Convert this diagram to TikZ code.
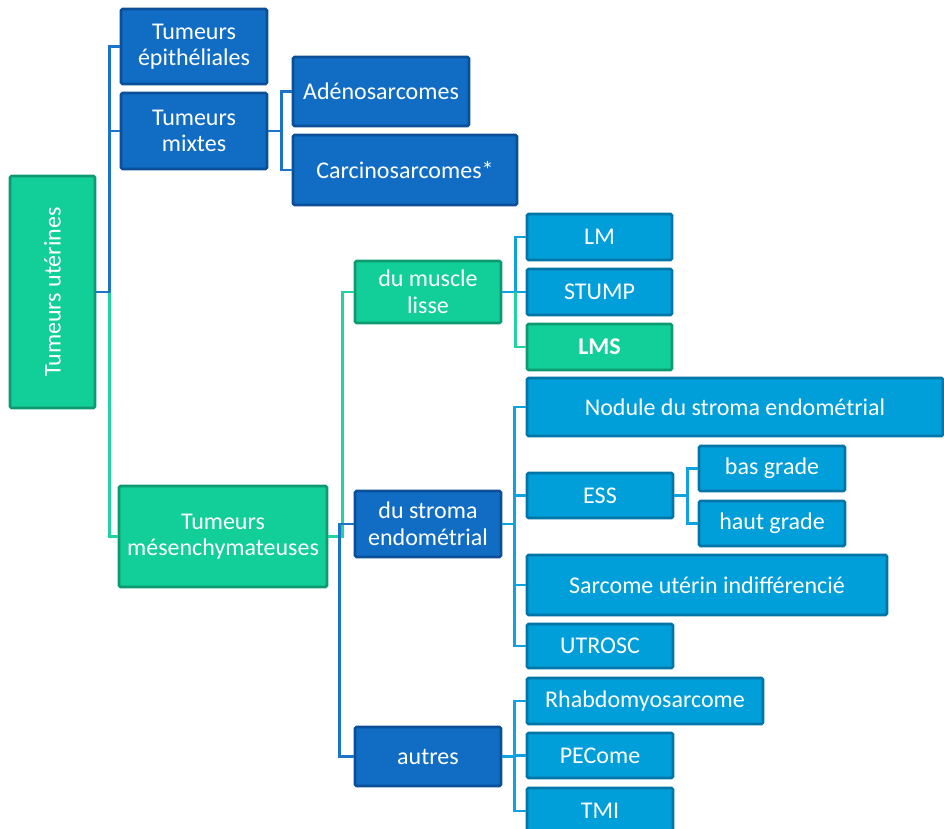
\documentclass[tikz,border=0pt]{standalone}
\usepackage{fontspec}
\usepackage{graphicx}
\setmainfont{Carlito}
\definecolor{grfill}{HTML}{12CE98}
\definecolor{grdraw}{HTML}{0E9A70}
\definecolor{dbfill}{HTML}{116DC4}
\definecolor{dbdraw}{HTML}{0B4F99}
\definecolor{lbfill}{HTML}{009FD9}
\definecolor{lbdraw}{HTML}{0075A8}
\definecolor{lgreen}{HTML}{22D3A2}
\definecolor{lblue}{HTML}{1B74CA}
\definecolor{llb}{HTML}{10A2DC}
\begin{document}
\begin{tikzpicture}[x=1pt,y=-1pt,
  box/.style={rectangle, rounded corners=1.5pt, line width=2.6pt, text=white, align=center, inner sep=0pt,
    font=\fontsize{24}{26.5}\selectfont},
  gr/.style={box, fill=grfill, draw=grdraw},
  db/.style={box, fill=dbfill, draw=dbdraw},
  lb/.style={box, fill=lbfill, draw=lbdraw},
  cg/.style={draw=lgreen, line width=2.5pt},
  cb/.style={draw=lblue, line width=2.5pt},
  cl/.style={draw=llb, line width=2.5pt},
]
\useasboundingbox (0,0) rectangle (944,829);
\clip (0,0) rectangle (944,829);
% nodes
\node[gr, minimum width=85pt, minimum height=232pt] (root) at (52.5,292) {\rotatebox{90}{Tumeurs utérines}};
\node[db, minimum width=146pt, minimum height=75pt] (epi) at (194,46.5) {Tumeurs\\épithéliales};
\node[db, minimum width=146pt, minimum height=76pt] (mix) at (194,131) {Tumeurs\\mixtes};
\node[db, minimum width=176pt, minimum height=69pt] (ade) at (381,91.5) {Adénosarcomes};
\node[db, minimum width=224pt, minimum height=70pt] (carc) at (405,170) {Carcinosarcomes*};
\node[gr, minimum width=146pt, minimum height=62pt] (mus) at (428,292) {du muscle\\lisse};
\node[lb, minimum width=145pt, minimum height=46pt] (lm) at (599.5,237) {LM};
\node[lb, minimum width=145pt, minimum height=46pt] (stump) at (599.5,292) {STUMP};
\node[gr, minimum width=145pt, minimum height=46pt] (lms) at (599.5,347) {\textbf{LMS}};
\node[gr, minimum width=208pt, minimum height=101pt] (mes) at (223,536.5) {Tumeurs\\mésenchymateuses};
\node[db, minimum width=146pt, minimum height=66pt] (str) at (428,524) {du stroma\\endométrial};
\node[lb, minimum width=416pt, minimum height=58pt] (nod) at (735,407) {Nodule du stroma endométrial};
\node[lb, minimum width=146pt, minimum height=45pt] (ess) at (600,495.5) {ESS};
\node[lb, minimum width=146pt, minimum height=45pt] (bas) at (772,468.5) {bas grade};
\node[lb, minimum width=146pt, minimum height=45pt] (haut) at (772,523.5) {haut grade};
\node[lb, minimum width=360pt, minimum height=60pt] (sar) at (707,585) {Sarcome utérin indifférencié};
\node[lb, minimum width=146pt, minimum height=44pt] (utr) at (600,646) {UTROSC};
\node[db, minimum width=146pt, minimum height=59pt] (aut) at (428,756.5) {autres};
\node[lb, minimum width=236pt, minimum height=46pt] (rha) at (645,701) {Rhabdomyosarcome};
\node[lb, minimum width=146pt, minimum height=45pt] (pec) at (600,755.5) {PECome};
\node[lb, minimum width=146pt, minimum height=46pt] (tmi) at (600,811) {TMI};
% connectors
\draw[cg] (root.east) ++(13,0) |- (mes.west);
\draw[cb] (root.east) -- ++(13,0) |- (epi.west);
\draw[cb] (root.east) ++(13,0) |- (mix.west);
\draw[cb] (mix.east) -- ++(13,0) |- (ade.west);
\draw[cb] (mix.east) ++(13,0) |- (carc.west);
\draw[cg] (mes.east) -- ++(14,0) |- (mus.west);
\draw[cb] (str.west) -- ++(-14,0) |- (aut.west);
\draw[cl] (mus.east) -- ++(13,0) |- (lm.west);
\draw[cl] (mus.east) -- (stump.west);
\draw[cg] (mus.east) ++(13,0) |- (lms.west);
\draw[cl] (str.east) -- ++(12,0) |- (nod.west);
\draw[cl] (str.east) ++(12,0) |- (ess.west);
\draw[cl] (str.east) ++(12,0) |- (sar.west);
\draw[cl] (str.east) ++(12,0) |- (utr.west);
\draw[cl] (ess.east) -- ++(13,0) |- (bas.west);
\draw[cl] (ess.east) ++(13,0) |- (haut.west);
\draw[cl] (aut.east) -- ++(12,0) |- (rha.west);
\draw[cl] (aut.east) ++(12,0) |- (pec.west);
\draw[cl] (aut.east) ++(12,0) |- (tmi.west);
\end{tikzpicture}
\end{document}
